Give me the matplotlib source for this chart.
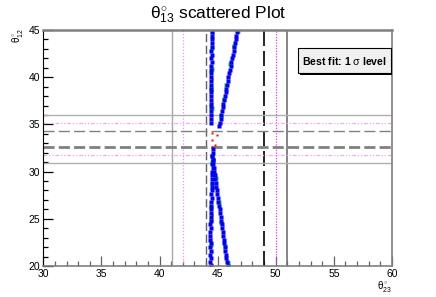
import numpy as np
import matplotlib
matplotlib.use('Agg')
import matplotlib.pyplot as plt
from matplotlib.patches import Rectangle

plt.rcParams['font.family'] = ['Liberation Sans', 'DejaVu Sans']
plt.rcParams['mathtext.fontset'] = 'custom'
plt.rcParams['mathtext.rm'] = 'Liberation Sans'
plt.rcParams['mathtext.it'] = 'Liberation Sans'

# blue points, four pieces of the two branches
blue_left_lo_y = [20.0, 20.4, 20.8, 21.2, 21.6, 22.0, 22.4, 22.8, 23.2, 23.6, 24.0, 24.4, 24.8, 25.2, 25.6, 26.0,
                  26.4, 26.8, 27.2, 27.6, 28.0, 28.4, 28.8, 29.2, 29.6, 30.0, 30.4, 30.8, 31.2, 31.6, 32.0, 32.4]
blue_left_lo_x = [44.40, 44.38, 44.42, 44.37, 44.40, 44.36, 44.39, 44.35, 44.38, 44.36, 44.40, 44.38, 44.42, 44.40,
                  44.44, 44.42, 44.46, 44.45, 44.48, 44.46, 44.50, 44.48, 44.52, 44.50, 44.54, 44.52, 44.56, 44.54,
                  44.57, 44.55, 44.58, 44.56]
blue_left_hi_y = [35.2, 35.6, 36.0, 36.4, 36.8, 37.2, 37.6, 38.0, 38.4, 38.8, 39.2, 39.6, 40.0, 40.4, 40.8, 41.2,
                  41.6, 42.0, 42.4, 42.8, 43.2, 43.6, 44.0, 44.4, 44.8]
blue_left_hi_x = [44.45, 44.43, 44.47, 44.44, 44.46, 44.42, 44.45, 44.41, 44.44, 44.40, 44.43, 44.41, 44.45, 44.43,
                  44.47, 44.44, 44.48, 44.46, 44.49, 44.47, 44.50, 44.48, 44.51, 44.49, 44.52]
blue_right_lo_y = [20.0, 20.4, 20.8, 21.2, 21.6, 22.0, 22.4, 22.8, 23.2, 23.6, 24.0, 24.4, 24.8, 25.2, 25.6, 26.0,
                   26.4, 26.8, 27.2, 27.6, 28.0, 28.4, 28.8, 29.2, 29.6, 30.0, 30.4, 30.8, 31.2, 31.6]
blue_right_lo_x = [45.85, 45.80, 45.76, 45.71, 45.67, 45.62, 45.58, 45.53, 45.49, 45.44, 45.39, 45.35, 45.30, 45.26,
                   45.21, 45.17, 45.12, 45.07, 45.03, 44.98, 44.94, 44.89, 44.85, 44.80, 44.76, 44.71, 44.66, 44.62,
                   44.57, 44.53]
blue_right_hi_y = [34.8, 35.2, 35.6, 36.0, 36.4, 36.8, 37.2, 37.6, 38.0, 38.4, 38.8, 39.2, 39.6, 40.0, 40.4, 40.8,
                   41.2, 41.6, 42.0, 42.4, 42.8, 43.2, 43.6, 44.0, 44.4, 44.8]
blue_right_hi_x = [45.12, 45.17, 45.25, 45.30, 45.37, 45.42, 45.49, 45.55, 45.62, 45.68, 45.73, 45.81, 45.86, 45.93,
                   45.99, 46.05, 46.12, 46.17, 46.24, 46.30, 46.37, 46.42, 46.49, 46.55, 46.62, 46.68]

red_x = [44.50, 44.49, 44.47, 44.46, 44.51, 44.54, 44.57, 44.60, 44.62, 44.58,
         44.53, 44.55, 44.51,
         44.80, 44.95, 45.12,
         44.52, 44.50, 44.52, 44.49, 44.53, 44.55, 44.54, 44.58,
         45.38, 45.64, 45.94, 46.24, 46.52, 46.75,
         45.78, 45.48, 45.19, 44.95, 44.75]
red_y = [20.2, 21.5, 22.9, 24.1, 25.4, 26.9, 28.3, 29.6, 30.9, 31.8,
         32.6, 33.3, 34.1,
         32.8, 33.9, 35.0,
         36.0, 37.3, 38.5, 39.8, 41.0, 42.3, 43.5, 44.7,
         36.5, 38.1, 40.1, 41.9, 43.8, 45.0,
         20.6, 23.3, 25.7, 27.9, 29.8]

green_x = [44.42, 44.45, 44.43, 44.47, 44.52, 44.50, 44.48, 44.46, 44.50, 44.52, 44.55,
           45.28, 45.52, 45.76, 46.10, 46.40, 46.72,
           45.90, 45.62, 45.33, 45.08, 44.82, 44.60]
green_y = [20.0, 22.2, 24.9, 26.3, 28.7, 31.0, 36.7, 38.9, 40.9, 43.1, 44.9,
           35.9, 37.7, 39.2, 41.4, 43.3, 44.9,
           20.3, 22.1, 24.6, 26.8, 29.3, 31.3]

# sigma level boundaries
th23_solid = [41.07, 50.95]
th23_dotted = [42.05, 50.05]
th23_dashed = [43.97, 49.02]
th12_solid = [30.88, 35.96]
th12_dotted = [31.73, 35.12]
th12_dashed = [32.64, 34.27]

fig = plt.figure(figsize=(4.36, 2.97), dpi=100)
ax = fig.add_axes([0.0993, 0.1044, 0.7997, 0.7946])

ax.axvline(th23_solid[0], color='#a8a8a8', lw=1.0)
ax.axvline(th23_solid[1], color='#707070', lw=1.2)
ax.axvline(th23_dotted[0], color='#f090f0', lw=0.9, ls=(0, (1, 1.5)))
ax.axvline(th23_dotted[1], color='#ff30ff', lw=0.9, ls=(0, (1, 1.2)))
ax.axvline(th23_dashed[0], color='#606060', lw=1.0, ls=(0, (6, 2.5)))
ax.axvline(th23_dashed[1], color='black', lw=1.2, ls=(0, (9, 3)))

ax.axhline(th12_solid[0], color='#b0b0b0', lw=1.0)
ax.axhline(th12_solid[1], color='#b0b0b0', lw=1.0)
ax.axhline(th12_dotted[0], color='#f0a8f0', lw=0.9, ls=(0, (3, 1.5, 1, 1.5, 1, 1.5)))
ax.axhline(th12_dotted[1], color='#f0a8f0', lw=0.9, ls=(0, (3, 1.5, 1, 1.5, 1, 1.5)))
ax.axhline(th12_dashed[0], color='#808080', lw=2.0, ls=(0, (4, 1.5)))
ax.axhline(th12_dashed[1], color='#808080', lw=1.0, ls=(0, (8, 3)))

ms = 2.5
ax.plot(red_x, red_y, 's', color='red', ms=2.1, mec='none')
ax.plot(green_x, green_y, 's', color='#00dd00', ms=ms, mec='none')
for bx, by in [(blue_left_lo_x, blue_left_lo_y), (blue_left_hi_x, blue_left_hi_y),
               (blue_right_lo_x, blue_right_lo_y), (blue_right_hi_x, blue_right_hi_y)]:
    ax.plot(bx, by, 's', color='#0000ff', ms=ms, mec='none')

ax.set_xlim(30, 60)
ax.set_ylim(20, 45)
ax.set_xticks(np.arange(30, 61, 5))
ax.set_yticks(np.arange(20, 46, 5))
ax.set_xticks(np.arange(30, 61, 1), minor=True)
ax.set_yticks(np.arange(20, 46, 1), minor=True)
ax.tick_params(which='both', direction='in', labelsize=7.5, top=False, right=False, pad=2)
ax.tick_params(which='major', length=7, width=0.9)
ax.tick_params(which='minor', length=3.5, width=0.9)
ax.tick_params(axis='x', which='both', colors='#606060', labelcolor='black')

ax.spines['left'].set_color('black')
for s in ['top', 'right', 'bottom']:
    ax.spines[s].set_color('#808080')
ax.spines['top'].set_linewidth(1.8)
ax.spines['right'].set_linewidth(1.2)
ax.spines['bottom'].set_linewidth(1.2)

# legend box with shadow
ax.add_patch(Rectangle((0.737, 0.810), 0.266, 0.105, transform=ax.transAxes, fc='black', ec='none', zorder=5))
ax.add_patch(Rectangle((0.731, 0.817), 0.266, 0.105, transform=ax.transAxes, fc='#f0f0f0', ec='black', lw=0.8, zorder=6))
ax.text(0.864, 0.869, r'Best fit: 1 $\sigma$ level', transform=ax.transAxes, ha='center', va='center',
        fontsize=7.6, fontweight='bold', zorder=7)

fig.text(0.5, 0.95, r'$\theta^{\circ}_{13}$ scattered Plot', ha='center', va='center', fontsize=12.5)
fig.text(0.04, 0.905, r'$\theta^{\circ}_{12}$', rotation=90, ha='center', va='top', fontsize=7)
fig.text(0.898, 0.035, r'$\theta^{\circ}_{23}$', ha='right', va='center', fontsize=7)

fig.savefig('out.png', dpi=100)
